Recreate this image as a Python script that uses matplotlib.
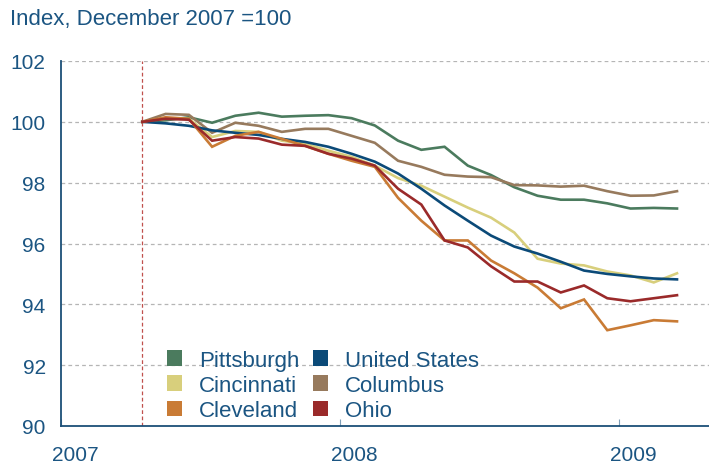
import numpy as np
import matplotlib
matplotlib.use("Agg")
import matplotlib.pyplot as plt
from matplotlib.transforms import ScaledTranslation
from matplotlib.patches import Patch

months = ["2007-04", "2007-05", "2007-06", "2007-07", "2007-08", "2007-09",
          "2007-10", "2007-11", "2007-12", "2008-01", "2008-02", "2008-03",
          "2008-04", "2008-05", "2008-06", "2008-07", "2008-08", "2008-09",
          "2008-10", "2008-11", "2008-12", "2009-01", "2009-02", "2009-03"]

pittsburgh = [100, 100.05, 100.15, 99.97, 100.2, 100.3, 100.17, 100.2, 100.22, 100.12,
              99.88, 99.38, 99.08, 99.18, 98.56, 98.25, 97.85, 97.57, 97.44, 97.44,
              97.32, 97.15, 97.17, 97.15]
united_states = [100, 99.95, 99.87, 99.72, 99.64, 99.57, 99.44, 99.34, 99.18, 98.95,
                 98.69, 98.3, 97.8, 97.25, 96.75, 96.26, 95.9, 95.67, 95.4, 95.11,
                 95.0, 94.92, 94.85, 94.82]
cincinnati = [100, 100.1, 100.1, 99.5, 99.7, 99.67, 99.38, 99.28, 99.05, 98.85,
              98.56, 98.15, 97.9, 97.54, 97.18, 96.85, 96.36, 95.5, 95.34, 95.28,
              95.08, 94.95, 94.72, 95.02]
columbus = [100, 100.26, 100.23, 99.64, 99.97, 99.87, 99.67, 99.77, 99.77, 99.54,
            99.31, 98.72, 98.52, 98.26, 98.2, 98.18, 97.92, 97.91, 97.87, 97.9,
            97.72, 97.57, 97.58, 97.72]
cleveland = [100, 100.15, 100.1, 99.18, 99.54, 99.67, 99.44, 99.21, 98.95, 98.72,
             98.52, 97.5, 96.75, 96.1, 96.1, 95.44, 95.02, 94.55, 93.87, 94.16,
             93.15, 93.31, 93.48, 93.44]
ohio = [100, 100.1, 100.07, 99.38, 99.5, 99.45, 99.25, 99.21, 98.95, 98.79,
        98.56, 97.8, 97.28, 96.1, 95.87, 95.25, 94.75, 94.75, 94.39, 94.62,
        94.2, 94.1, 94.2, 94.3]

series = [
    ("Pittsburgh", pittsburgh, "#4b7b5e"),
    ("Cincinnati", cincinnati, "#d8cf7c"),
    ("Cleveland", cleveland, "#c97b35"),
    ("United States", united_states, "#0b4a78"),
    ("Columbus", columbus, "#977a5d"),
    ("Ohio", ohio, "#9a2a2a"),
]
year_ticks = [2007, 2008, 2009]
y_ticks = [90, 92, 94, 96, 98, 100, 102]

TEXT = "#1b5582"
AXIS = "#1b4f77"

plt.rcParams['font.family'] = ['Liberation Sans', 'DejaVu Sans']

# convert months to fractional years (mid-month)
x = np.array([int(m[:4]) + (int(m[5:]) - 0.5) / 12 for m in months])

fig = plt.figure(figsize=(7.09, 4.64), dpi=100)
ax = fig.add_axes([61 / 709, 1 - 427 / 464, 1 - 61 / 709, (427 - 62) / 464])

draw_order = ["Pittsburgh", "Columbus", "Cincinnati", "United States", "Cleveland", "Ohio"]
lookup = {n: (v, c) for n, v, c in series}
for i, n in enumerate(draw_order):
    v, c = lookup[n]
    ax.plot(x, v, color=c, lw=1.9, zorder=3 + i, solid_joinstyle='miter')

ax.axvline(x[0], color="#c0504d", lw=0.9, ls=(0, (3, 2)), zorder=2)

ax.set_xlim(2007, 2009.323)
ax.set_ylim(90, 102)
ax.set_yticks(y_ticks)
ax.set_xticks(year_ticks)
ax.set_xticklabels([str(y) for y in year_ticks])

for yv in y_ticks[1:]:
    ax.axhline(yv, color="#b5b5b5", lw=0.9, ls=(0, (3, 2.5)), zorder=1)

for s in ["top", "right"]:
    ax.spines[s].set_visible(False)
for s in ["left", "bottom"]:
    ax.spines[s].set_color(AXIS)
    ax.spines[s].set_linewidth(1.3)

ax.tick_params(axis='y', length=0, pad=11, labelsize=15, labelcolor=TEXT)
ax.tick_params(axis='x', direction='in', length=5, width=0.8, color="#7f9fb8",
               pad=14, labelsize=15, labelcolor=TEXT)
for lab in ax.get_xticklabels():
    lab.set_transform(lab.get_transform() + ScaledTranslation(14 / 100, 0, fig.dpi_scale_trans))

fig.text(10 / 709, 1 - 20 / 464, "Index, December 2007 =100", fontsize=16,
         color=TEXT, ha='left', va='center')

handles = [Patch(facecolor=c, edgecolor='none', label=n) for n, v, c in series]
leg = ax.legend(handles=handles, ncol=2, loc='lower left',
                bbox_to_anchor=(97 / 648, -0.012), frameon=False, fontsize=16,
                handlelength=0.7, handleheight=0.7, handletextpad=0.75,
                columnspacing=0.6, labelspacing=0.2, borderaxespad=0)
for t in leg.get_texts():
    t.set_color(TEXT)

fig.savefig("out.png", dpi=100)
